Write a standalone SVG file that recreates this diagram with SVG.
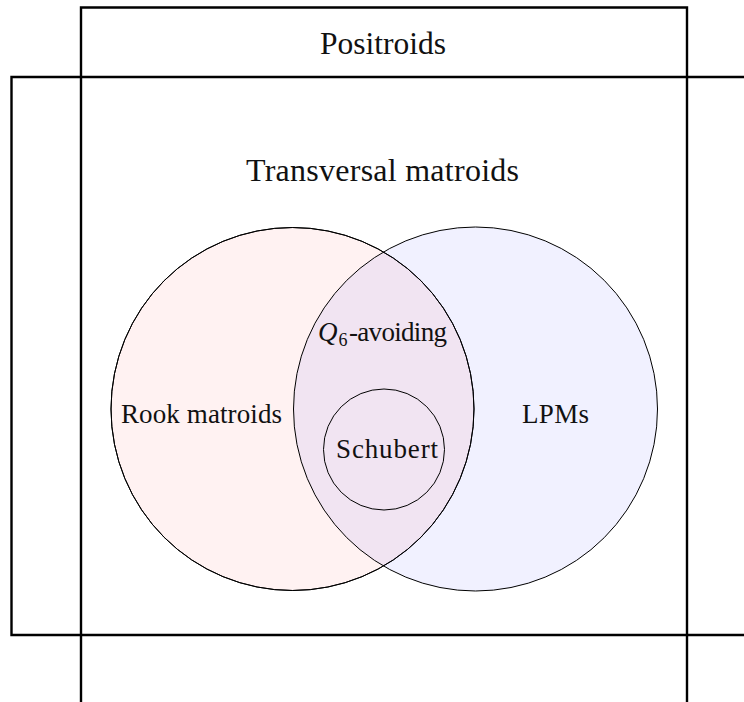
<svg xmlns="http://www.w3.org/2000/svg" width="744" height="702" viewBox="0 0 744 702">
<style>
.box{fill:none;stroke:#000;stroke-width:2.4}
.c{stroke:#000;stroke-width:1}
.t{font-family:"Liberation Serif","DejaVu Serif",serif;fill:#111;text-anchor:middle}
.s{font-family:"Liberation Serif","DejaVu Serif",serif;fill:#111}
</style>
<rect width="744" height="702" fill="#fff"/>
<g id="transversal">
<path class="box" d="M746,77 H11.5 V635 H746"/>
<text class="t" x="382.5" y="181" font-size="32" textLength="273">Transversal matroids</text>
</g>
<g id="positroids">
<path class="box" d="M81,704 V7.5 H687 V704"/>
<text class="t" x="383" y="54" font-size="31.5" textLength="126">Positroids</text>
</g>
<g id="rook">
<circle class="c" cx="292.5" cy="409" r="181.5" fill="#ff0000" fill-opacity="0.05"/>
</g>
<g id="lpms">
<circle class="c" cx="475.5" cy="409" r="182" fill="#0000ff" fill-opacity="0.055"/>
</g>
<g id="rook-outline"><circle cx="292.5" cy="409" r="181.5" fill="none" stroke="#000" stroke-width="1"/></g>
<g id="schubert">
<circle class="c" cx="384" cy="449.5" r="60.5" fill="none"/>
<text class="t" x="387" y="458" font-size="27" textLength="102">Schubert</text>
</g>
<g id="labels">
<text class="t" x="201.5" y="423" font-size="27" textLength="161">Rook matroids</text>
<text class="t" x="555.5" y="423" font-size="27" textLength="67">LPMs</text>
<text class="s" x="318" y="341" font-size="27" font-style="italic">Q</text>
<text class="s" x="338.5" y="346" font-size="18">6</text>
<text class="s" x="349" y="341" font-size="27" textLength="98">-avoiding</text>
</g>
</svg>
